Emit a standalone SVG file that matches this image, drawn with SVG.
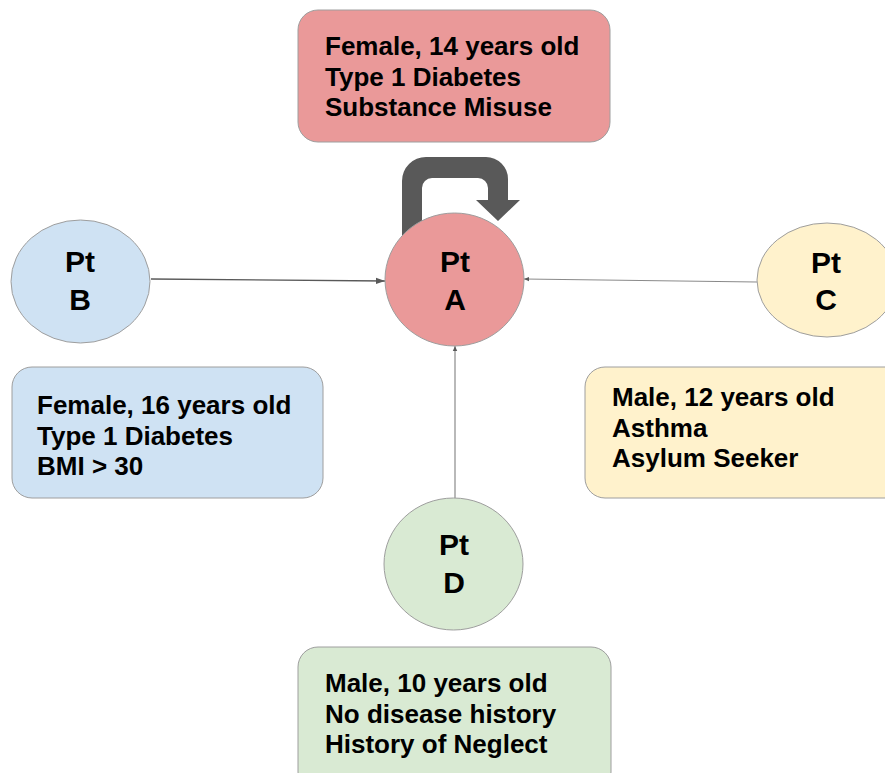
<svg xmlns="http://www.w3.org/2000/svg" width="885" height="773" viewBox="0 0 885 773">
<defs>
<style>
.box{stroke:#9e9e9e;stroke-width:1}
.circ{stroke:#9e9e9e;stroke-width:1}
.red{fill:#ea9999}
.blue{fill:#cfe2f3}
.yellow{fill:#fff2cc}
.green{fill:#d9ead3}
.bt{font-family:"Liberation Sans",Arial,sans-serif;font-weight:bold;font-size:26px;fill:#000}
.ct{font-family:"Liberation Sans",Arial,sans-serif;font-weight:bold;font-size:30px;fill:#000;text-anchor:middle}
.conn{stroke:#595959;stroke-width:1.3;fill:none}
.conn2{stroke:#8a8a8a;stroke-width:1.2;fill:none}
</style>
<marker id="arrL" markerUnits="userSpaceOnUse" markerWidth="10" markerHeight="8" refX="9" refY="4" orient="auto">
<path d="M0,0.8 L9,4 L0,7.2 Z" fill="#595959"/>
</marker>
<marker id="arrS" markerUnits="userSpaceOnUse" markerWidth="6" markerHeight="6" refX="5" refY="3" orient="auto">
<path d="M0,0.8 L5,3 L0,5.2 Z" fill="#595959"/>
</marker>
</defs>
<rect width="885" height="773" fill="#ffffff"/>

<g id="connectors">
<line class="conn" x1="151" y1="279" x2="385" y2="281" marker-end="url(#arrL)"/>
<line class="conn2" x1="757" y1="282" x2="524" y2="279" marker-end="url(#arrS)"/>
<line class="conn2" x1="455" y1="498" x2="455" y2="346" marker-end="url(#arrS)"/>
<path id="self-loop" d="M402,262 L402,181 A24,24 0 0 1 426,157 L486,157 A22,22 0 0 1 508,179 L508,200 L520,200 L498,221 L476,200 L488,200 L488,188 A10,10 0 0 0 478,178 L432,178 A10,10 0 0 0 422,188 L422,262 Z" fill="#595959"/>
</g>

<g id="box-a">
<rect class="box red" x="298" y="10" width="312" height="132" rx="20"/>
<text class="bt" x="325" y="55">Female, 14 years old</text>
<text class="bt" x="325" y="86">Type 1 Diabetes</text>
<text class="bt" x="325" y="116">Substance Misuse</text>
</g>

<g id="node-a">
<ellipse class="circ red" cx="454.5" cy="279.5" rx="69.5" ry="66.5"/>
<text class="ct" x="455" y="272">Pt</text>
<text class="ct" x="455" y="310">A</text>
</g>

<g id="node-b">
<ellipse class="circ blue" cx="80.5" cy="281.5" rx="69.5" ry="61.5"/>
<text class="ct" x="80" y="272">Pt</text>
<text class="ct" x="80" y="310">B</text>
</g>

<g id="node-c">
<ellipse class="circ yellow" cx="827" cy="280" rx="70" ry="57"/>
<text class="ct" x="826" y="273">Pt</text>
<text class="ct" x="826" y="310">C</text>
</g>

<g id="node-d">
<ellipse class="circ green" cx="453.5" cy="564" rx="69.5" ry="66"/>
<text class="ct" x="454" y="555">Pt</text>
<text class="ct" x="454" y="593">D</text>
</g>

<g id="box-b">
<rect class="box blue" x="12" y="367" width="311" height="131" rx="20"/>
<text class="bt" x="37" y="414">Female, 16 years old</text>
<text class="bt" x="37" y="445">Type 1 Diabetes</text>
<text class="bt" x="37" y="475">BMI &gt; 30</text>
</g>

<g id="box-c">
<rect class="box yellow" x="585" y="367" width="320" height="131" rx="20"/>
<text class="bt" x="612" y="406">Male, 12 years old</text>
<text class="bt" x="612" y="437">Asthma</text>
<text class="bt" x="612" y="467">Asylum Seeker</text>
</g>

<g id="box-d">
<rect class="box green" x="298" y="647" width="313" height="145" rx="20"/>
<text class="bt" x="325" y="692">Male, 10 years old</text>
<text class="bt" x="325" y="723">No disease history</text>
<text class="bt" x="325" y="753">History of Neglect</text>
</g>
</svg>
